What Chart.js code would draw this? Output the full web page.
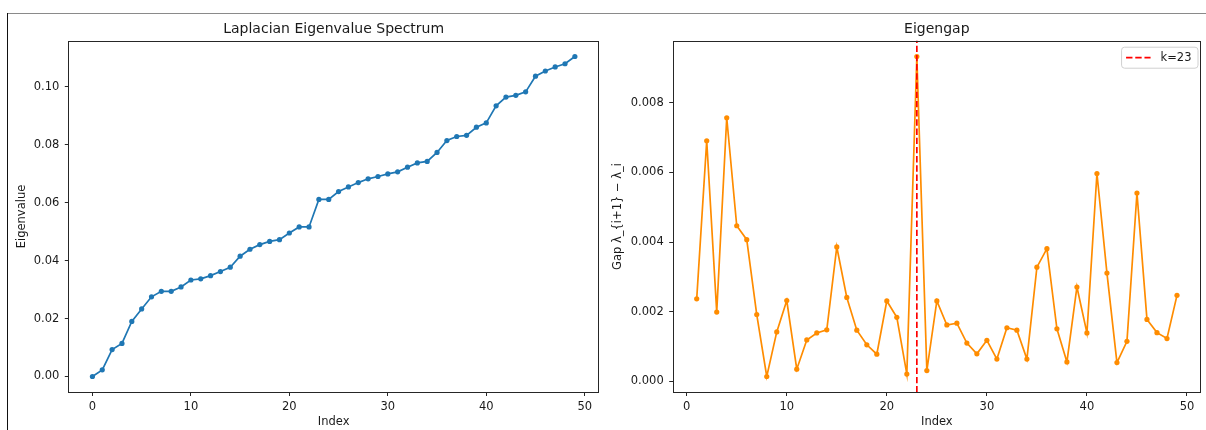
<!DOCTYPE html>
<html><head><meta charset="utf-8">
<script src="https://cdn.jsdelivr.net/npm/chart.js@4.4.1/dist/chart.umd.min.js"></script>
<style>
html,body{margin:0;padding:0;background:#fff;width:1206px;height:430px;overflow:hidden;}
#frameTop{position:absolute;left:7px;top:13px;width:1199px;height:0;border-top:1px solid #8a8a8a;}
#frameLeft{position:absolute;left:7px;top:13px;width:0;height:417px;border-left:1px solid #111;}
#c1{position:absolute;left:8px;top:14px;}
#c2{position:absolute;left:604px;top:14px;}
</style></head><body>
<div id="frameTop"></div><div id="frameLeft"></div>
<canvas id="c1" width="596" height="416"></canvas>
<canvas id="c2" width="602" height="416"></canvas>
<script>
// ---- data ----
const eigIndex = [0,1,2,3,4,5,6,7,8,9,10,11,12,13,14,15,16,17,18,19,20,21,22,23,24,25,26,27,28,29,30,31,32,33,34,35,36,37,38,39,40,41,42,43,44,45,46,47,48,49];
const eigenvalues = [0.0000,0.0023,0.0093,0.0114,0.0190,0.0233,0.0275,0.0294,0.0294,0.0309,
  0.0333,0.0337,0.0348,0.0362,0.0377,0.0415,0.0439,0.0455,0.0466,0.0472,
  0.0495,0.0516,0.0516,0.0611,0.0611,0.0638,0.0654,0.0669,0.0682,0.0690,
  0.0699,0.0706,0.0722,0.0737,0.0742,0.0773,0.0814,0.0828,0.0832,0.0860,
  0.0875,0.0934,0.0964,0.0970,0.0982,0.1036,0.1054,0.1068,0.1079,0.1104];
const gapIndex = [1,2,3,4,5,6,7,8,9,10,11,12,13,14,15,16,17,18,19,20,21,22,23,24,25,26,27,28,29,30,31,32,33,34,35,36,37,38,39,40,41,42,43,44,45,46,47,48,49];
const gaps = [0.00237,0.00691,0.00199,0.00757,0.00447,0.00407,0.00192,0.00014,0.00142,0.00232,
  0.00035,0.00119,0.00139,0.00148,0.00386,0.00241,0.00147,0.00105,0.00078,0.00231,
  0.00184,0.00021,0.00933,0.00031,0.00231,0.00162,0.00167,0.00110,0.00079,0.00118,
  0.00064,0.00154,0.00147,0.00064,0.00328,0.00381,0.00151,0.00056,0.00271,0.00139,
  0.00597,0.00311,0.00054,0.00115,0.00541,0.00178,0.00140,0.00123,0.00247];
const kBest = 23;
const xTicks = [0,10,20,30,40,50];
const eigTicks = [0.00,0.02,0.04,0.06,0.08,0.10];
const gapTicks = [0.000,0.002,0.004,0.006,0.008];

// ---- helpers ----
const FONT = "'DejaVu Sans', sans-serif";
const TXT = '#1a1a1a';
const SPINE = '#262626';
function limits(arr){ const mn=Math.min(...arr), mx=Math.max(...arr), m=(mx-mn)*0.05; return [mn-m, mx+m]; }

const framePlugin = {
  id:'frame',
  afterDatasetsDraw(chart){
    const {ctx, chartArea:a} = chart;
    ctx.save();
    ctx.strokeStyle = SPINE; ctx.lineWidth = 1;
    const l=Math.round(a.left)+0.5, t=Math.round(a.top)+0.5, r=Math.round(a.right)-0.5, b=Math.round(a.bottom)-0.5;
    ctx.strokeRect(l,t,r-l,b-t);
    ctx.restore();
  }
};

function baseOptions(xLim, yLim, yTicks, yDec, yTitle, titleText, yAxisWidth){
  return {
    responsive:false, animation:false,
    layout:{padding:{left:0,right:5,top:0,bottom:0}},
    plugins:{
      legend:{display:false}, tooltip:{enabled:false},
      title:{display:true, text:titleText, fullSize:false, color:TXT,
        font:{family:FONT, size:14, weight:'normal', lineHeight:1.2}, padding:{top:6.9,bottom:2.8}}
    },
    scales:{
      x:{type:'linear', min:xLim[0], max:xLim[1],
        afterBuildTicks:(s)=>{ s.ticks = xTicks.map(v=>({value:v})); },
        afterFit:(s)=>{ s.height = 37.5; },
        grid:{display:true, drawOnChartArea:false, drawTicks:true, tickLength:3.5, tickColor:SPINE, tickWidth:1},
        border:{display:false},
        ticks:{color:TXT, padding:3.8, maxRotation:0, autoSkip:false, font:{family:FONT,size:11.5}, callback:(v)=>v.toFixed(0)},
        title:{display:true, text:'Index', color:TXT, font:{family:FONT,size:11.5}, padding:{top:0,bottom:1.4}}
      },
      y:{type:'linear', min:yLim[0], max:yLim[1],
        afterBuildTicks:(s)=>{ s.ticks = yTicks.map(v=>({value:v})); },
        afterFit:(s)=>{ s.width = yAxisWidth; },
        grid:{display:true, drawOnChartArea:false, drawTicks:true, tickLength:3.5, tickColor:SPINE, tickWidth:1},
        border:{display:false},
        ticks:{color:TXT, padding:5.5, autoSkip:false, font:{family:FONT,size:11.5}, callback:(v)=>v.toFixed(yDec)},
        title:{display:true, text:yTitle, color:TXT, font:{family:FONT,size:11.5}, padding:{top:7.4,bottom:0}}
      }
    }
  };
}

// ---- chart 1 ----
const eigXLim = limits(eigIndex), eigYLim = limits(eigenvalues);
new Chart(document.getElementById('c1'), {
  type:'line',
  data:{datasets:[{
    label:'eigenvalues',
    data: eigIndex.map((x,i)=>({x, y:eigenvalues[i]})),
    borderColor:'#1f77b4', backgroundColor:'#1f77b4', borderWidth:1.7,
    pointRadius:2.6, pointBorderWidth:0, pointHoverRadius:2.6, tension:0, fill:false
  }]},
  options: baseOptions(eigXLim, eigYLim, eigTicks, 2, 'Eigenvalue', 'Laplacian Eigenvalue Spectrum', 60.3),
  plugins:[framePlugin]
});

// ---- chart 2 ----
const gapXLim = limits(gapIndex), gapYLim = limits(gaps);
const legendPlugin = {
  id:'boxLegend',
  afterDraw(chart){
    const {ctx, chartArea:a} = chart;
    const ds = chart.data.datasets[0];
    ctx.save();
    ctx.font = '11.5px ' + FONT;
    const tw = ctx.measureText(ds.label).width;
    const w = 5 + 24.5 + 10 + tw + 6, h = 21;
    const x0 = a.right - 3.5 - w, y0 = a.top + 6.2;
    ctx.beginPath();
    ctx.roundRect(x0+0.5, y0+0.5, w, h, 3);
    ctx.fillStyle = 'rgba(255,255,255,0.85)'; ctx.fill();
    ctx.strokeStyle = '#d0d0d0'; ctx.lineWidth = 1; ctx.stroke();
    const ly = y0 + h/2 + 0.5;
    ctx.beginPath(); ctx.setLineDash(ds.borderDash); ctx.strokeStyle = ds.borderColor; ctx.lineWidth = ds.borderWidth;
    ctx.moveTo(x0+5, ly); ctx.lineTo(x0+29.5, ly); ctx.stroke();
    ctx.setLineDash([]);
    ctx.fillStyle = TXT; ctx.textBaseline = 'middle'; ctx.textAlign = 'left';
    ctx.fillText(ds.label, x0+39.5, ly);
    ctx.restore();
  }
};
new Chart(document.getElementById('c2'), {
  type:'line',
  data:{datasets:[
    {
      label:'k=' + kBest,
      data:[{x:kBest, y:gapYLim[0]}, {x:kBest, y:gapYLim[1]}],
      borderColor:'#ff0000', borderWidth:1.7, borderDash:[6.4,2.8], pointRadius:0, order:0, fill:false
    },
    {
      label:'gap',
      data: gapIndex.map((x,i)=>({x, y:gaps[i]})),
      borderColor:'#ff8c00', backgroundColor:'#ff8c00', borderWidth:1.7,
      pointRadius:2.6, pointBorderWidth:0, pointHoverRadius:2.6, tension:0, fill:false, order:1
    }
  ]},
  options: baseOptions(gapXLim, gapYLim, gapTicks, 3, 'Gap λ_{i+1} − λ_i', 'Eigengap', 68.7),
  plugins:[framePlugin, legendPlugin]
});
</script>
</body></html>
